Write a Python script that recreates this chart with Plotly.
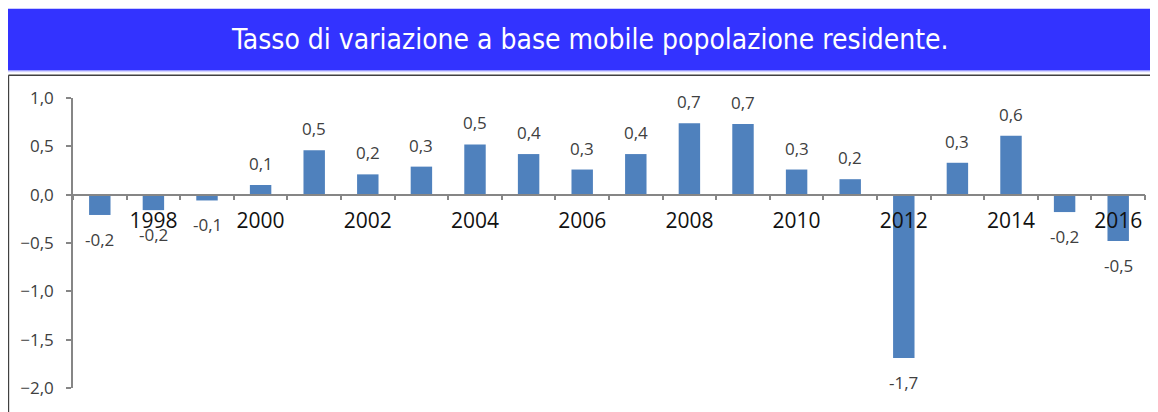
import plotly.graph_objects as go

# ---- data ----
years = [str(y) for y in range(1997, 2017)]
values = [-0.21, -0.16, -0.06, 0.10, 0.46, 0.21, 0.29, 0.52, 0.42, 0.26,
          0.42, 0.74, 0.73, 0.26, 0.16, -1.69, 0.33, 0.61, -0.18, -0.48]
year_labels = [y if int(y) % 2 == 0 else "" for y in years]
y_ticks = [1.0, 0.5, 0.0, -0.5, -1.0, -1.5, -2.0]
title_text = "Tasso di variazione a base mobile popolazione residente."

# ---- layout geometry (page pixels; the page body has an 8px margin) ----
OFF = 8
W, H = 1158 - OFF, 412 - OFF
PL, PR, PT, PB = 71, 1145.3, 98.3, 388.3
L, T = PL - OFF, PT - OFF
R, B = W - (PR - OFF), H - (PB - OFF)
PW, PH = W - L - R, H - T - B

def px(x):
    return (x - PL) / PW

def py(y):
    return (PB - y) / PH

fig = go.Figure()
fig.add_trace(go.Bar(
    x=years, y=values,
    marker=dict(color="#4F81BD", line=dict(width=0)),
    width=0.4,
    hoverinfo="skip",
))

ymin, ymax = min(y_ticks), max(y_ticks)
zero_pos = (0 - ymin) / (ymax - ymin)

label_font = dict(family="Open Sans", size=17, color="#404040")
annotations = []
for i, v in enumerate(values):
    txt = f"{v:.1f}".replace(".", ",")
    annotations.append(dict(
        x=i, y=v, xref="x", yref="y", text=txt, showarrow=False,
        xanchor="center", yanchor="bottom" if v >= 0 else "top",
        yshift=8 if v >= 0 else -11, font=label_font,
    ))

annotations.append(dict(
    text=title_text, xref="paper", yref="paper",
    x=px(589), y=py(40), xanchor="center", yanchor="middle",
    showarrow=False,
    font=dict(family="Liberation Sans Narrow, DejaVu Sans Condensed", size=28, color="white"),
))

fig.update_layout(
    width=W, height=H,
    margin=dict(l=L, r=R, t=T, b=B, pad=0),
    paper_bgcolor="white", plot_bgcolor="white",
    separators=",.",
    showlegend=False,
    xaxis=dict(
        type="category", range=[-0.5, len(years) - 0.5],
        tickmode="array", tickvals=years, ticktext=year_labels,
        tickson="boundaries", ticks="outside", ticklen=5, tickwidth=1.5,
        tickangle=0,
        tickcolor="#868686", showline=True, linecolor="#868686", linewidth=1.5,
        showgrid=False, anchor="free", position=zero_pos,
        tickfont=dict(family="Open Sans", size=21, color="#111111"),
        ticklabelstandoff=7,
    ),
    yaxis=dict(
        range=[ymin, ymax], tickmode="array", tickvals=y_ticks,
        tickformat=".1f", ticks="outside", ticklen=5, tickwidth=1.5,
        tickcolor="#868686", showline=True, linecolor="#868686", linewidth=1.5,
        showgrid=False, zeroline=False,
        tickfont=dict(family="Open Sans", size=17, color="#404040"),
        ticklabelstandoff=9,
    ),
    shapes=[
        dict(type="rect", xref="paper", yref="paper",
             x0=px(5.3), x1=px(1170), y0=py(70.7), y1=py(9),
             fillcolor="#3333FF", line=dict(width=0), layer="below"),
        dict(type="line", xref="paper", yref="paper",
             x0=px(5.3), x1=px(1170), y0=py(72), y1=py(72),
             line=dict(color="#C8C8FF", width=1)),
        dict(type="line", xref="paper", yref="paper",
             x0=px(6.3), x1=px(1170), y0=py(75.5), y1=py(75.5),
             line=dict(color="#404040", width=1.5)),
        dict(type="line", xref="paper", yref="paper",
             x0=px(6.3), x1=px(6.3), y0=py(75.5), y1=py(430),
             line=dict(color="#404040", width=1.5)),
    ],
    annotations=annotations,
)

fig.write_html("out.html")
